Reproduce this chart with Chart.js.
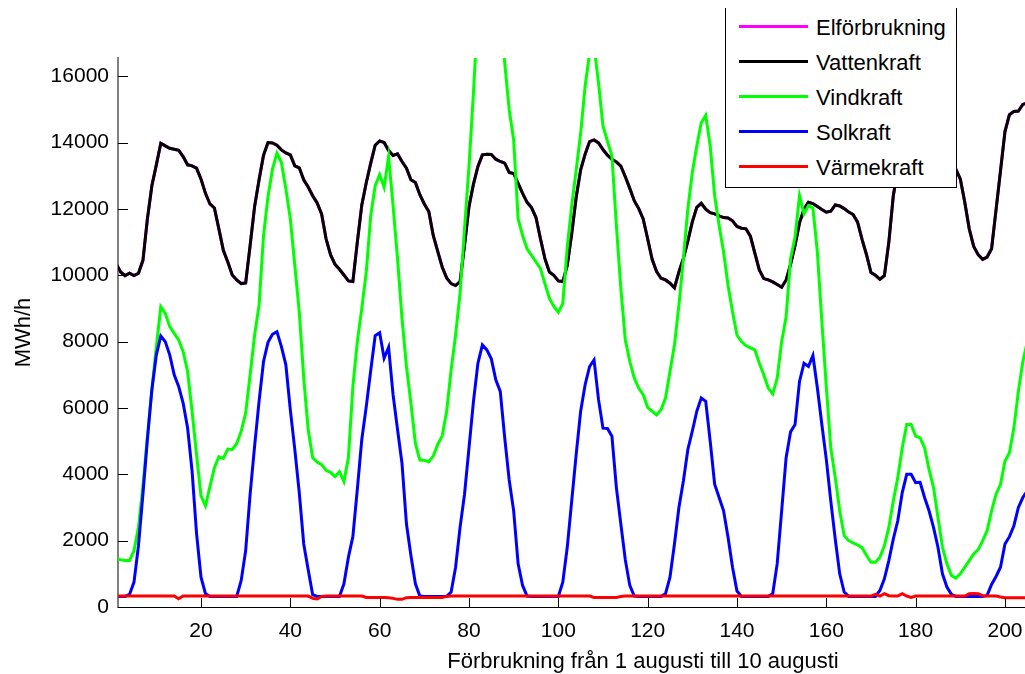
<!DOCTYPE html>
<html lang="sv">
<head>
<meta charset="utf-8">
<title>Förbrukning 1-10 augusti</title>
<script src="https://cdn.jsdelivr.net/npm/chart.js@4.4.1/dist/chart.umd.min.js"></script>
<style>
    html, body { margin: 0; padding: 0; background: #fff; overflow: hidden; }
    #ram { position: relative; width: 1025px; height: 674px; overflow: hidden; }
    #diagram { position: absolute; left: 0; top: 0; }
    #legend {
        position: absolute; left: 725px; top: 8px; width: 230px; height: 179px;
        border: 1px solid #000; border-top: none; background: #fff;
        font-family: "Liberation Sans", Arial, sans-serif; font-size: 22px; color: #000;
    }
    .rad { position: absolute; left: 0; height: 36px; display: flex; align-items: center; }
    .streck { display: inline-block; width: 69px; height: 3px; margin-left: 13px; }
    .text { margin-left: 8px; padding-top: 3px; white-space: nowrap; }
</style>
</head>
<body>
<div id="ram">
    <canvas id="diagram" width="1170" height="674"></canvas>
    <div id="legend"></div>
</div>
<script>
// timvärden i MWh/h, timme 1..205
const vattenkraft = [
    10350, 10100, 9990, 10060, 9990, 10060, 10450, 11700, 12700, 13330,
    13980, 13900, 13830, 13800, 13770, 13580, 13330, 13300, 13230, 12900,
    12470, 12150, 12030, 11400, 10750, 10400, 10010, 9860, 9750, 9770,
    10900, 12070, 12880, 13620, 14000, 13990, 13920, 13780, 13690, 13630,
    13300, 13240, 12880, 12660, 12400, 12180, 11850, 11100, 10620, 10330,
    10180, 10010, 9830, 9810, 11000, 12120, 12790, 13380, 13920, 14050,
    14000, 13760, 13610, 13660, 13430, 13230, 12880, 12800, 12430, 12150,
    11920, 11200, 10720, 10250, 9920, 9750, 9690, 9810, 10900, 12070,
    12750, 13280, 13630, 13650, 13640, 13500, 13430, 13380, 13100, 13070,
    12770, 12470, 12200, 12040, 11740, 11100, 10500, 10100, 10000, 9830,
    9810, 10300, 11250, 12350, 13180, 13650, 14030, 14080, 13990, 13790,
    13620, 13500, 13420, 13290, 12970, 12620, 12250, 12010, 11700, 11100,
    10480, 10110, 9910, 9860, 9760, 9620, 10100, 10510, 11030, 11610,
    12050, 12170, 11990, 11890, 11850, 11790, 11740, 11730, 11640, 11470,
    11420, 11400, 11180, 10670, 10160, 9900, 9860, 9800, 9720, 9640,
    9860, 10330, 10900, 11580, 11990, 12200, 12160, 12070, 11980, 11900,
    11930, 12120, 12090, 12010, 11910, 11830, 11600, 11080, 10620, 10080,
    10000, 9880, 9990, 11000, 12400, 13200, 13700, 13950, 13900, 13800,
    13700, 13650, 13600, 13500, 13450, 13400, 13350, 13300, 13200, 12900,
    12200, 11400, 10870, 10620, 10480, 10550, 10800, 11970, 13150, 14330,
    14840, 14940, 14950, 15150, 15200
];

// förbrukningen ligger under vattenkraftskurvan i bilden
const elforbrukning = vattenkraft;

const vindkraft = [
    1480, 1420, 1400, 1400, 1700, 2400, 3650, 5150, 6550, 7850,
    9050, 8850, 8450, 8250, 8050, 7700, 7100, 5900, 4600, 3350,
    3050, 3630, 4200, 4530, 4480, 4760, 4750, 4930, 5300, 5850,
    7000, 8200, 9100, 11200, 12370, 13200, 13680, 13400, 12600, 11700,
    10300, 8900, 6900, 5340, 4500, 4370, 4290, 4120, 4060, 3930,
    4080, 3780, 4500, 6640, 8000, 9000, 10100, 11800, 12700, 13030,
    12650, 13580, 12100, 10500, 8700, 7250, 6140, 4930, 4430, 4420,
    4380, 4550, 4900, 5160, 5900, 7150, 8200, 9460, 11400, 13280,
    15500, 18000, 19500, 20000, 19800, 19000, 17800, 16400, 14990, 14080,
    11700, 11200, 10800, 10600, 10400, 10200, 9750, 9300, 9060, 8880,
    9150, 10850, 12100, 13170, 14280, 15700, 16700, 16900, 15800, 14500,
    14040, 13600, 11500, 9600, 8050, 7400, 6900, 6600, 6400, 6020,
    5900, 5790, 5950, 6300, 7100, 7900, 9100, 10500, 12000, 13100,
    13900, 14600, 14820, 13900, 12400, 11500, 10700, 9700, 8900, 8200,
    8000, 7880, 7810, 7750, 7350, 7000, 6600, 6420, 6900, 8000,
    8750, 10500, 11150, 12400, 11850, 12100, 12020, 10700, 8600, 6640,
    4800, 3900, 2900, 2150, 2000, 1930, 1870, 1790, 1550, 1350,
    1350, 1500, 1850, 2400, 3200, 3900, 4800, 5500, 5500, 5150,
    5100, 4800, 4150, 3600, 2700, 1800, 1300, 950, 870, 1000,
    1200, 1400, 1600, 1730, 2000, 2300, 2900, 3400, 3700, 4400,
    4650, 5400, 6500, 7400, 8000
];

const solkraft = [
    320, 320, 320, 380, 750, 1850, 3400, 5050, 6550, 7600,
    8170, 8000, 7600, 7000, 6650, 6150, 5400, 4100, 2220, 900,
    400, 320, 320, 320, 320, 320, 320, 320, 800, 1700,
    3400, 4850, 6200, 7400, 7980, 8220, 8300, 7850, 7300, 5940,
    4750, 3450, 1900, 1120, 370, 320, 320, 320, 320, 320,
    320, 700, 1500, 2120, 3550, 5050, 6040, 7130, 8180, 8270,
    7500, 7830, 6400, 5350, 4330, 2500, 1550, 700, 330, 320,
    320, 320, 320, 320, 320, 450, 1200, 2400, 3400, 4800,
    6200, 7350, 7900, 7750, 7480, 6850, 6500, 5100, 3830, 2900,
    1300, 650, 330, 320, 320, 320, 320, 320, 320, 320,
    750, 1800, 3200, 4600, 5900, 6700, 7250, 7450, 6250, 5390,
    5380, 5150, 3600, 2500, 1420, 650, 330, 320, 320, 320,
    320, 320, 320, 400, 900, 1900, 3000, 3800, 4750, 5300,
    5900, 6300, 6200, 5000, 3700, 3300, 2900, 2100, 1200, 480,
    320, 320, 320, 320, 320, 320, 320, 400, 1300, 2900,
    4500, 5280, 5500, 6800, 7350, 7250, 7580, 6600, 5500, 4450,
    3200, 2050, 1000, 450, 320, 320, 320, 320, 320, 320,
    320, 500, 850, 1400, 2050, 2600, 3450, 4000, 4000, 3750,
    3760, 3300, 2900, 2400, 1800, 1000, 600, 380, 320, 320,
    320, 320, 320, 320, 320, 350, 680, 920, 1200, 1900,
    2120, 2450, 3000, 3300, 3500
];

const varmekraft = [
    330, 330, 330, 330, 330, 330, 330, 330, 330, 330,
    330, 330, 330, 330, 250, 330, 330, 330, 330, 330,
    330, 330, 330, 330, 330, 330, 330, 330, 330, 330,
    330, 330, 330, 330, 330, 330, 330, 330, 330, 330,
    330, 330, 330, 330, 260, 240, 320, 330, 330, 330,
    330, 330, 330, 330, 330, 330, 290, 290, 290, 290,
    290, 280, 260, 230, 230, 280, 290, 290, 290, 290,
    290, 290, 290, 290, 320, 330, 330, 330, 330, 330,
    330, 330, 330, 330, 330, 330, 330, 330, 330, 330,
    330, 330, 330, 330, 330, 330, 330, 330, 330, 330,
    330, 330, 330, 330, 330, 330, 330, 290, 290, 290,
    290, 290, 290, 320, 330, 330, 330, 330, 330, 330,
    330, 330, 330, 330, 330, 330, 330, 330, 330, 330,
    330, 330, 330, 330, 330, 330, 330, 330, 330, 330,
    330, 330, 330, 330, 330, 330, 330, 330, 330, 330,
    330, 330, 330, 330, 330, 330, 330, 330, 330, 330,
    330, 330, 330, 330, 330, 330, 330, 330, 330, 330,
    380, 330, 400, 340, 330, 330, 400, 330, 290, 330,
    330, 330, 330, 330, 330, 330, 330, 330, 330, 330,
    330, 400, 410, 400, 340, 330, 330, 330, 300, 280,
    280, 280, 280, 280, 280
];

const xTicks = [20, 40, 60, 80, 100, 120, 140, 160, 180, 200, 220];
const yTicks = [0, 2000, 4000, 6000, 8000, 10000, 12000, 14000, 16000];
const xTitel = 'Förbrukning från 1 augusti till 10 augusti';

const serier = [
    { namn: 'Elförbrukning', varden: elforbrukning, farg: '#ff00ff' },
    { namn: 'Vattenkraft', varden: vattenkraft, farg: '#000000' },
    { namn: 'Vindkraft', varden: vindkraft, farg: '#00ff00' },
    { namn: 'Solkraft', varden: solkraft, farg: '#0000ff' },
    { namn: 'Värmekraft', varden: varmekraft, farg: '#ff0000' }
];

const typsnitt = '"Liberation Sans", Arial, sans-serif';

// korta streck innanför axlarna och texten under x-axeln, som i matlab
const axelText = {
    id: 'axelText',
    afterDraw(chart) {
        const { ctx, chartArea, scales } = chart;
        ctx.save();
        ctx.strokeStyle = '#000';
        ctx.lineWidth = 1;
        ctx.beginPath();
        scales.x.ticks.forEach(t => {
            const px = Math.round(scales.x.getPixelForValue(t.value)) + 0.5;
            ctx.moveTo(px, chartArea.bottom);
            ctx.lineTo(px, chartArea.bottom - 9);
        });
        scales.y.ticks.forEach(t => {
            const py = Math.round(scales.y.getPixelForValue(t.value)) + 0.5;
            ctx.moveTo(chartArea.left, py);
            ctx.lineTo(chartArea.left + 10, py);
        });
        ctx.stroke();

        ctx.fillStyle = '#000';
        ctx.textAlign = 'center';
        ctx.textBaseline = 'alphabetic';
        ctx.font = '21px ' + typsnitt;
        scales.x.ticks.forEach(t => {
            ctx.fillText(String(t.value), scales.x.getPixelForValue(t.value), chartArea.bottom + 30);
        });
        ctx.font = '22px ' + typsnitt;
        ctx.fillText(xTitel, (chartArea.left + chartArea.right) / 2, chartArea.bottom + 61);
        ctx.restore();
    }
};

const datasets = serier.map((s, i) => ({
    label: s.namn,
    data: s.varden.map((v, t) => ({ x: t + 1, y: v })),
    borderColor: s.farg,
    borderWidth: 3,
    pointRadius: 0,
    tension: 0,
    fill: false,
    order: serier.length - i
}));

new Chart(document.getElementById('diagram'), {
    type: 'line',
    data: { datasets: datasets },
    options: {
        responsive: false,
        animation: false,
        layout: { padding: { top: 58, right: 2, left: 0, bottom: 0 } },
        plugins: {
            legend: { display: false },
            tooltip: { enabled: false }
        },
        scales: {
            x: {
                type: 'linear',
                min: 1.417,
                max: 236.5,
                afterBuildTicks: scale => { scale.ticks = xTicks.map(v => ({ value: v })); },
                afterFit: scale => { scale.height = 67; },
                grid: { display: false, drawTicks: false },
                border: { display: true, color: '#000', width: 1 },
                ticks: { display: false },
                title: { display: false }
            },
            y: {
                min: 0,
                max: 16550,
                afterFit: scale => { scale.width = 118; },
                afterBuildTicks: scale => { scale.ticks = yTicks.map(v => ({ value: v })); },
                grid: { display: false, drawTicks: false },
                border: { display: true, color: '#808080', width: 2 },
                ticks: {
                    padding: 9,
                    color: '#000',
                    font: { family: typsnitt, size: 21 },
                    callback: v => String(v)
                },
                title: {
                    display: true,
                    text: 'MWh/h',
                    color: '#000',
                    font: { family: typsnitt, size: 22 },
                    padding: { top: 11, bottom: 0 }
                }
            }
        }
    },
    plugins: [axelText]
});

// legenden ligger delvis ovanför ritytan, så den byggs i html
const legend = document.getElementById('legend');
serier.forEach((s, i) => {
    const rad = document.createElement('div');
    rad.className = 'rad';
    rad.style.top = (i * 35) + 'px';
    const streck = document.createElement('span');
    streck.className = 'streck';
    streck.style.background = s.farg;
    const text = document.createElement('span');
    text.className = 'text';
    text.textContent = s.namn;
    rad.appendChild(streck);
    rad.appendChild(text);
    legend.appendChild(rad);
});
</script>
</body>
</html>
